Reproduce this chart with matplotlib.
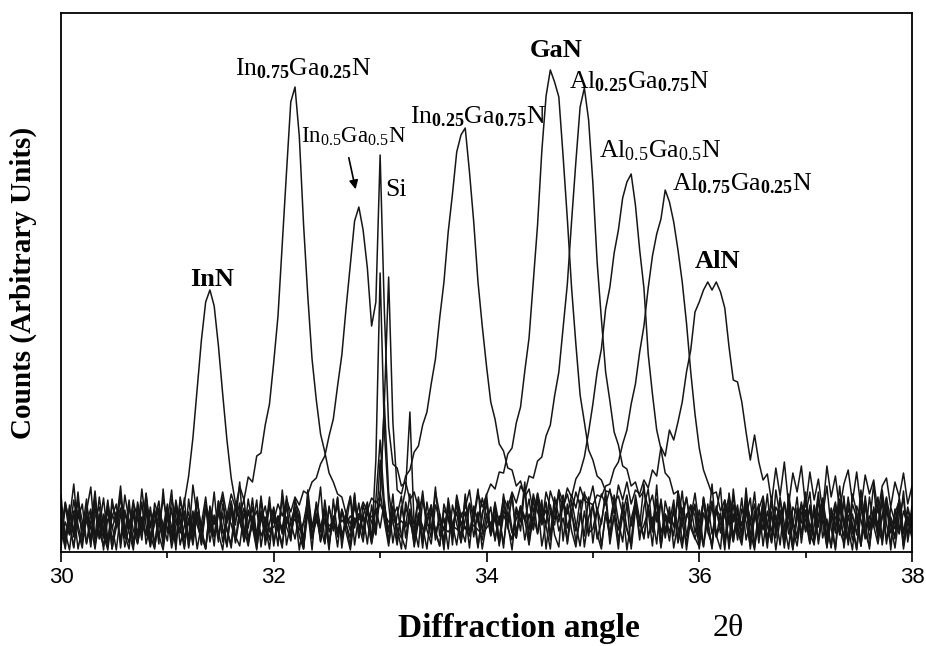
import numpy as np
from matplotlib import pyplot as plt


# scan step is 0.04 deg, 30 -> 38 (201 points per scan)
ANGLES = np.linspace(30, 38, 201)

INN = (
    [34, 8, 47, 19, 60, 12, 38, 5, 52, 27, 14, 44, 3, 31, 58, 22, 9, 41, 17, 63, 26, 6, 49, 35, 11]
    + [40, 15, 52, 28, 50, 76, 114, 163, 212, 250, 262, 246, 206, 158, 112, 74, 49, 30, 44, 9, 36, 18, 53, 7, 29]
    + [45, 21, 4, 56, 30, 13, 39, 7, 62, 24, 48, 10, 33, 2, 53, 18, 42, 28, 6, 57, 15, 37, 50, 9, 29]
    + [52, 148, 60, 31, 7, 46, 25, 58, 12, 39, 4, 50, 21, 65, 16, 34, 3, 47, 28, 10, 55, 19, 41, 6, 36]
    + [58, 16, 35, 9, 49, 28, 2, 43, 21, 64, 13, 37, 52, 6, 30, 47, 17, 5, 56, 24, 41, 10, 33, 60, 19]
    + [23, 44, 6, 38, 15, 57, 31, 10, 50, 3, 42, 26, 68, 14, 35, 8, 53, 20, 45, 4, 29, 61, 16, 36, 48]
    + [12, 55, 30, 3, 46, 19, 40, 8, 63, 25, 11, 51, 34, 5, 43, 22, 58, 13, 37, 7, 50, 27, 2, 44, 18]
    + [40, 9, 26, 60, 14, 33, 4, 48, 21, 56, 7, 38, 17, 62, 29, 3, 45, 24, 11, 54, 32, 15, 47, 6, 35]
    + [20]
)

IN75 = (
    [4, 47, 18, 52, 27, 8, 41, 65, 13, 36, 2, 49, 23, 40, 10, 57, 31, 6, 44, 19, 59, 12, 38, 26, 53]
    + [31, 62, 10, 43, 5, 34, 20, 55, 16, 3, 46, 28, 40, 60, 36, 58, 44, 66, 52, 75, 70, 96, 99, 127, 148]
    + [190, 236, 308, 380, 450, 465, 416, 328, 256, 193, 152, 118, 100, 79, 70, 58, 55, 38, 56, 24, 49, 15, 42, 12, 92]
    + [279, 120, 48, 9, 37, 56, 14, 43, 5, 30, 61, 22, 8, 47, 33, 2, 54, 26, 40, 11, 58, 17, 35, 63, 20]
    + [50, 17, 37, 6, 58, 24, 12, 45, 30, 70, 8, 35, 19, 52, 3, 41, 27, 62, 11, 48, 21, 5, 39, 16, 55]
    + [9, 43, 28, 61, 15, 36, 3, 50, 24, 8, 57, 32, 13, 46, 20, 67, 6, 38, 29, 52, 11, 44, 2, 34, 59]
    + [26, 5, 48, 18, 40, 64, 10, 33, 55, 21, 7, 45, 27, 60, 14, 36, 4, 51, 23, 42, 9, 58, 30, 16, 47]
    + [37, 60, 12, 29, 53, 4, 41, 19, 66, 25, 10, 48, 34, 6, 56, 22, 43, 13, 62, 28, 7, 39, 51, 18, 45]
    + [27]
)

IN50 = (
    [22, 6, 41, 15, 33, 48, 9, 27, 3, 38, 19, 52, 11, 30, 44, 5, 25, 36, 14, 50, 8, 29, 43, 17, 2]
    + [35, 18, 47, 7, 26, 40, 12, 53, 21, 4, 37, 28, 45, 10, 32, 49, 16, 6, 39, 24, 54, 13, 31, 46, 20]
    + [31, 48, 36, 52, 40, 55, 47, 61, 58, 70, 74, 88, 96, 116, 133, 166, 197, 244, 287, 331, 345, 322, 284, 226, 250]
    + [397, 240, 125, 88, 84, 66, 70, 52, 60, 44, 53, 28, 47, 12, 38, 5, 44, 20, 51, 9, 33, 48, 15, 40, 3]
    + [29, 45, 11, 36, 4, 51, 23, 14, 42, 32, 7, 55, 18, 39, 26, 3, 47, 21, 34, 10, 52, 28, 6, 41, 16]
    + [48, 13, 30, 55, 8, 37, 22, 44, 2, 33, 50, 17, 27, 41, 6, 53, 19, 35, 11, 46, 25, 4, 38, 29, 14]
    + [5, 39, 24, 46, 17, 3, 52, 31, 10, 43, 20, 36, 54, 8, 28, 45, 13, 40, 2, 33, 49, 18, 26, 55, 9]
    + [42, 20, 7, 50, 34, 15, 44, 25, 53, 4, 37, 12, 30, 47, 19, 6, 40, 27, 55, 11, 35, 23, 46, 3, 31]
    + [14]
)

IN25 = (
    [16, 50, 28, 5, 42, 21, 37, 9, 54, 13, 31, 46, 3, 25, 40, 18, 52, 7, 34, 23, 48, 11, 29, 44, 6]
    + [38, 12, 47, 26, 3, 53, 19, 35, 8, 43, 29, 15, 51, 22, 6, 39, 31, 49, 10, 27, 45, 4, 36, 20, 55]
    + [9, 33, 24, 48, 14, 41, 2, 30, 52, 17, 37, 25, 8, 46, 21, 55, 12, 38, 28, 44, 36, 50, 41, 54, 49]
    + [55, 150, 275, 130, 62, 58, 76, 82, 100, 106, 127, 140, 168, 193, 234, 270, 320, 358, 400, 417, 424, 380, 330, 270, 226]
    + [186, 150, 133, 108, 101, 84, 82, 66, 71, 55, 63, 40, 58, 27, 50, 12, 44, 30, 57, 8, 39, 21, 52, 5, 35]
    + [47, 18, 3, 40, 29, 54, 11, 36, 22, 6, 49, 32, 15, 44, 26, 52, 4, 38, 19, 42, 9, 31, 55, 24, 13]
    + [30, 51, 20, 8, 43, 35, 2, 47, 16, 39, 27, 55, 10, 33, 48, 6, 41, 22, 14, 53, 28, 3, 45, 37, 18]
    + [54, 24, 39, 12, 46, 5, 33, 50, 21, 9, 44, 28, 3, 52, 17, 36, 25, 48, 7, 40, 30, 13, 55, 19, 42]
    + [26]
)

GAN = (
    [57, 10, 32, 68, 21, 4, 45, 26, 61, 14, 38, 6, 53, 29, 66, 17, 3, 49, 35, 12, 58, 24, 41, 8, 63]
    + [19, 44, 2, 55, 30, 13, 67, 36, 7, 48, 22, 60, 15, 39, 5, 51, 27, 70, 11, 42, 33, 9, 56, 23, 46]
    + [35, 6, 62, 25, 12, 50, 40, 3, 57, 18, 31, 65, 9, 44, 28, 54, 4, 37, 21, 59, 14, 47, 30, 8, 52]
    + [112, 48, 20, 58, 9, 41, 63, 140, 26, 5, 53, 33, 14, 60, 38, 21, 49, 7, 57, 36, 44, 62, 31, 58, 45]
    + [57, 68, 63, 80, 79, 98, 104, 129, 145, 181, 214, 270, 327, 401, 456, 482, 470, 455, 396, 333, 264, 208, 157, 130, 102]
    + [92, 76, 72, 61, 60, 50, 56, 38, 57, 26, 49, 12, 45, 63, 22, 40, 6, 51, 33, 16, 61, 28, 9, 47, 36]
    + [3, 54, 24, 68, 15, 39, 7, 59, 30, 47, 11, 64, 20, 2, 43, 56, 26, 10, 62, 34, 18, 50, 5, 41, 29]
    + [60, 16, 45, 8, 37, 66, 23, 4, 52, 31, 13, 58, 40, 6, 47, 25, 69, 15, 34, 55, 2, 43, 21, 61, 10]
    + [38]
)

AL25 = (
    [26, 3, 44, 18, 52, 31, 8, 39, 14, 55, 23, 5, 47, 35, 11, 42, 20, 2, 50, 28, 16, 45, 7, 37, 24]
    + [48, 10, 33, 21, 54, 4, 40, 27, 13, 46, 34, 6, 51, 19, 29, 43, 9, 36, 53, 15, 25, 2, 41, 32, 12]
    + [39, 22, 55, 7, 30, 45, 16, 3, 49, 26, 38, 11, 52, 20, 34, 5, 43, 28, 14, 50, 24, 37, 8, 47, 19]
    + [92, 38, 11, 46, 24, 3, 50, 30, 17, 55, 9, 37, 44, 21, 6, 48, 33, 14, 52, 27, 40, 4, 45, 30, 54]
    + [36, 18, 50, 27, 55, 44, 60, 49, 66, 58, 76, 74, 91, 95, 116, 127, 156, 180, 224, 268, 331, 390, 445, 464, 432]
    + [369, 290, 233, 180, 151, 120, 107, 86, 83, 66, 70, 55, 61, 44, 57, 30, 51, 14, 40, 25, 53, 8, 36, 47, 19]
    + [42, 6, 33, 51, 15, 28, 46, 3, 38, 22, 54, 12, 31, 48, 9, 41, 25, 55, 17, 35, 4, 44, 29, 13, 50]
    + [21, 47, 10, 37, 53, 26, 5, 43, 32, 16, 55, 24, 2, 39, 49, 13, 34, 20, 52, 8, 45, 30, 18, 41, 27]
    + [33]
)

AL50 = (
    [13, 49, 29, 4, 40, 22, 53, 10, 35, 45, 17, 2, 38, 27, 55, 14, 32, 8, 47, 21, 41, 5, 30, 51, 18]
    + [44, 25, 7, 52, 33, 14, 41, 3, 28, 55, 19, 37, 10, 48, 23, 4, 45, 31, 16, 53, 26, 8, 39, 12, 49]
    + [6, 36, 20, 47, 11, 54, 30, 15, 42, 2, 50, 24, 39, 9, 33, 46, 18, 27, 55, 7, 38, 22, 48, 13, 43]
    + [24, 51, 9, 35, 45, 16, 3, 40, 28, 53, 12, 31, 47, 20, 6, 42, 36, 14, 55, 25, 10, 49, 33, 4, 39]
    + [52, 18, 44, 8, 37, 27, 58, 14, 46, 31, 53, 22, 59, 40, 28, 61, 47, 56, 45, 64, 55, 73, 80, 95, 120]
    + [148, 180, 203, 243, 265, 299, 322, 354, 370, 378, 347, 302, 264, 198, 158, 122, 103, 79, 74, 58, 61, 40, 54, 28, 46]
    + [15, 53, 30, 5, 44, 21, 38, 55, 11, 34, 26, 48, 3, 41, 17, 52, 29, 9, 45, 36, 13, 50, 23, 6, 40]
    + [32, 8, 47, 25, 54, 14, 36, 2, 43, 28, 51, 18, 39, 6, 49, 22, 33, 55, 12, 44, 27, 4, 37, 53, 16]
    + [46]
)

AL75 = (
    [46, 20, 2, 38, 51, 15, 30, 43, 7, 26, 54, 12, 35, 48, 4, 39, 23, 52, 9, 31, 45, 17, 3, 42, 28]
    + [11, 53, 34, 19, 41, 6, 29, 50, 24, 3, 44, 16, 37, 55, 21, 8, 47, 32, 13, 40, 26, 52, 5, 35, 22]
    + [25, 36, 18, 30, 27, 33, 22, 29, 35, 24, 31, 20, 34, 26, 30, 23, 32, 27, 36, 29, 33, 31, 38, 35, 42]
    + [48, 38, 30, 33, 27, 31, 26, 29, 24, 28, 23, 27, 25, 22, 28, 24, 20, 26, 23, 19, 25, 21, 27, 22, 18]
    + [24, 30, 14, 35, 8, 40, 19, 33, 45, 12, 38, 23, 52, 31, 42, 18, 55, 35, 44, 58, 39, 60, 46, 58, 50]
    + [47, 57, 55, 66, 68, 83, 90, 108, 122, 148, 168, 200, 226, 264, 296, 318, 333, 362, 350, 330, 302, 270, 229, 180, 138]
    + [104, 82, 70, 58, 60, 41, 52, 28, 47, 12, 43, 30, 6, 40, 22, 51, 9, 36, 27, 55, 15, 39, 3, 33, 48]
    + [20, 44, 11, 53, 29, 6, 41, 35, 17, 50, 24, 2, 46, 32, 13, 55, 26, 8, 38, 49, 19, 30, 52, 10, 36]
    + [24]
)

ALN = (
    [9, 30, 17, 41, 3, 25, 36, 12, 44, 20, 6, 33, 27, 2, 39, 15, 45, 22, 8, 35, 18, 42, 5, 29, 13]
    + [37, 4, 26, 43, 14, 31, 7, 40, 21, 45, 10, 34, 19, 2, 38, 28, 11, 44, 24, 6, 32, 41, 16, 27, 3]
    + [42, 23, 8, 35, 18, 45, 29, 4, 39, 13, 32, 24, 44, 6, 36, 15, 41, 20, 2, 34, 27, 10, 43, 30, 17]
    + [60, 31, 6, 40, 22, 14, 44, 33, 9, 37, 26, 3, 42, 18, 35, 11, 45, 28, 7, 39, 24, 16, 46, 30, 12]
    + [38, 25, 48, 10, 42, 30, 55, 19, 46, 35, 22, 58, 40, 28, 60, 45, 33, 62, 50, 38, 57, 44, 65, 52, 48]
    + [66, 40, 58, 47, 63, 38, 67, 52, 70, 48, 62, 58, 72, 64, 82, 76, 105, 96, 122, 112, 130, 150, 180, 202, 240]
    + [250, 262, 270, 262, 270, 260, 244, 205, 172, 170, 150, 120, 92, 117, 90, 72, 78, 50, 84, 56, 90, 47, 79, 60, 86]
    + [45, 80, 52, 73, 40, 86, 55, 76, 42, 68, 82, 50, 80, 44, 77, 58, 72, 39, 66, 74, 45, 70, 55, 79, 48]
    + [66]
)

SCANS = [INN, IN75, IN50, IN25, GAN, AL25, AL50, AL75, ALN]

X_TICKS = [30, 32, 34, 36, 38]

SERIF = 'Liberation Serif'


def plot(x, scans):
    plt.rcParams['mathtext.fontset'] = 'custom'
    plt.rcParams['mathtext.rm'] = SERIF
    plt.rcParams['mathtext.it'] = SERIF + ':italic'
    plt.rcParams['mathtext.bf'] = SERIF + ':bold'

    fig = plt.figure(figsize=(9.26, 6.46), dpi=100)
    ax = fig.add_axes([61 / 926, 1 - 552 / 646, 851 / 926, 539 / 646])

    for y in scans:
        ax.plot(x, y, color='#161616', lw=1.1)

    ax.set_xlim(30, 38)
    ax.set_ylim(0, 539)
    ax.set_yticks([])
    ax.set_xticks(X_TICKS)
    ax.set_xticks([31, 33, 35, 37], minor=True)
    ax.tick_params('x', which='major', direction='out', length=7, width=1.2, pad=4)
    ax.tick_params('x', which='minor', direction='out', length=4, width=1.2)
    for lab in ax.get_xticklabels():
        lab.set_fontfamily('Liberation Sans')
        lab.set_fontsize(16)
    for s in ax.spines.values():
        s.set_linewidth(1.3)

    # peak names
    txt = dict(family=SERIF, va='baseline', ha='left')
    ax.text(31.21, 266, 'InN', fontsize=19, weight='bold', **txt)
    ax.text(31.64, 477, r'In$_{\mathbf{0.75}}$Ga$_{\mathbf{0.25}}$N', fontsize=18.5, **txt)
    ax.text(32.26, 409, r'In$_{\mathit{0.5}}$Ga$_{\mathit{0.5}}$N', fontsize=16.5, **txt)
    ax.text(33.05, 356, 'Si', fontsize=18.5, **txt)
    ax.text(33.28, 429, r'In$_{\mathbf{0.25}}$Ga$_{\mathbf{0.75}}$N', fontsize=18.5, **txt)
    ax.text(34.41, 495, 'GaN', fontsize=19, weight='bold', **txt)
    ax.text(34.78, 464, r'Al$_{\mathbf{0.25}}$Ga$_{\mathbf{0.75}}$N', fontsize=18.5, **txt)
    ax.text(35.06, 395, r'Al$_{\mathit{0.5}}$Ga$_{\mathit{0.5}}$N', fontsize=18.5, **txt)
    ax.text(35.74, 362, r'Al$_{\mathbf{0.75}}$Ga$_{\mathbf{0.25}}$N', fontsize=18.5, **txt)
    ax.text(35.96, 284, 'AlN', fontsize=19, weight='bold', **txt)

    ax.annotate('', xy=(32.775, 360), xytext=(32.70, 397),
                arrowprops=dict(arrowstyle='-|>', color='black', lw=1.2, mutation_scale=13))

    fig.text(23 / 926, 1 - 283 / 646, 'Counts (Arbitrary Units)', rotation=90,
             ha='center', va='center', family=SERIF, weight='bold', fontsize=21)
    fig.text(398 / 926, 1 - 637 / 646, 'Diffraction angle', ha='left', va='baseline',
             family=SERIF, weight='bold', fontsize=24)
    fig.text(713 / 926, 1 - 636 / 646, '2θ', ha='left', va='baseline',
             family=SERIF, fontsize=23)

    fig.savefig('out.png', dpi=100)


def main():
    plot(ANGLES, SCANS)


if __name__ == '__main__':
    main()
